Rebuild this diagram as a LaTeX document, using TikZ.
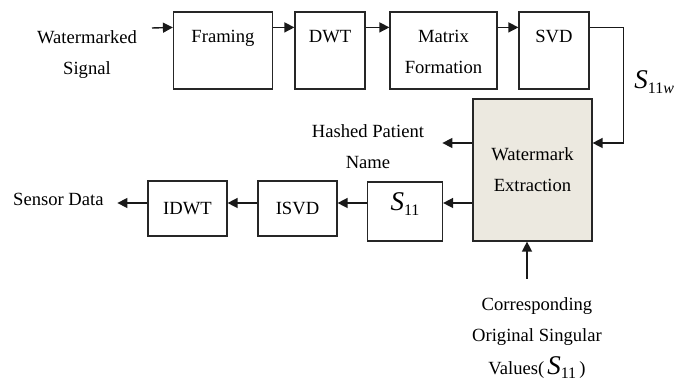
\documentclass[tikz,border=0pt]{standalone}
\usepackage{fontspec}
\setmainfont{Liberation Serif}
\usetikzlibrary{arrows.meta, positioning}

\definecolor{wmfill}{RGB}{236,233,224}
\newcommand{\Sval}[1]{{\fontsize{13.5}{15}\selectfont\textit{S}}\raisebox{-0.55ex}{\fontsize{8}{9}\selectfont #1}}

\begin{document}
\begin{tikzpicture}[
    x=0.5pt, y=-0.5pt,
    font=\fontsize{9.3}{15.5}\selectfont,
    box/.style={draw=black!85, rectangle, line width=0.6pt, inner sep=0pt},
    txt/.style={align=center, inner sep=0pt, anchor=north},
    arr/.style={-{Triangle[length=5pt, width=5pt]}, line width=0.7pt, black!90}
]
    \useasboundingbox (0,0) rectangle (677,385);

    % Top row
    \node[box, minimum width=49.5pt, minimum height=38.5pt] (frm) at (223,50.5) {};
    \node[box, minimum width=35pt, minimum height=38.5pt] (dwt) at (330,50.5) {};
    \node[box, minimum width=53.5pt, minimum height=38.5pt] (mtx) at (443.5,50.5) {};
    \node[box, minimum width=35pt, minimum height=38.5pt] (svd) at (554,50.5) {};
    \node[txt] (frmtxt) at (223,30) {Framing};
    \node[txt] (dwttxt) at (330,30) {DWT};
    \node[txt] (mtxtxt) at (443.5,30) {Matrix\\Formation};
    \node[txt] (svdtxt) at (554,30) {SVD};
    \node[txt] (insig) at (87,30) {Watermarked\\Signal};

    % Extraction
    \node[box, fill=wmfill, minimum width=59.5pt, minimum height=71pt, align=center] (wex) at (532.5,170) {Watermark\\Extraction};
    \node[txt] (hash) at (368,124) {Hashed Patient\\Name};
    \node[anchor=west, inner sep=0pt] (s11w) at (634,82) {\Sval{11\textit{w}}};

    % Bottom row
    \node[box, minimum width=37.5pt, minimum height=29.5pt] (s11) at (405,211.5) {};
    \node[box, minimum width=39.5pt, minimum height=27.5pt] (isvd) at (297.5,208.5) {ISVD};
    \node[box, minimum width=39.5pt, minimum height=27.5pt] (idwt) at (187.5,208.5) {IDWT};
    \node[inner sep=0pt] (s11txt) at (405,204) {\Sval{11}};
    \node[anchor=east, inner sep=0pt] (sensor) at (104,199) {Sensor Data};
    \node[txt] (orig) at (537,297) {Corresponding\\Original Singular\\[1pt]Values(\,\Sval{11}\,)};

    % Arrows top
    \coordinate (row) at (0,203);
    \draw[arr] (152,28) -- ([yshift=-8pt]frm.north west);
    \draw[arr] ([yshift=-8pt]frm.north east) -- ([yshift=-8pt]dwt.north west);
    \draw[arr] ([yshift=-8pt]dwt.north east) -- ([yshift=-8pt]mtx.north west);
    \draw[arr] ([yshift=-8pt]mtx.north east) -- ([yshift=-8pt]svd.north west);
    \draw[arr] ([yshift=-8pt]svd.north east) -- ++(34,0) |- ([yshift=13.5pt]wex.east);

    % Arrows bottom
    \draw[arr] ([yshift=13.5pt]wex.west) -- ++(-30,0);
    \draw[arr] (wex.west |- row) -- (s11.east |- row);
    \draw[arr] (s11.west |- row) -- (isvd.east |- row);
    \draw[arr] (isvd.west |- row) -- (idwt.east |- row);
    \draw[arr] (idwt.west |- row) -- ++(-30,0);
    \draw[arr] ([xshift=-2.75pt]wex.south) ++(0,37) -- ([xshift=-2.75pt]wex.south);
\end{tikzpicture}
\end{document}
